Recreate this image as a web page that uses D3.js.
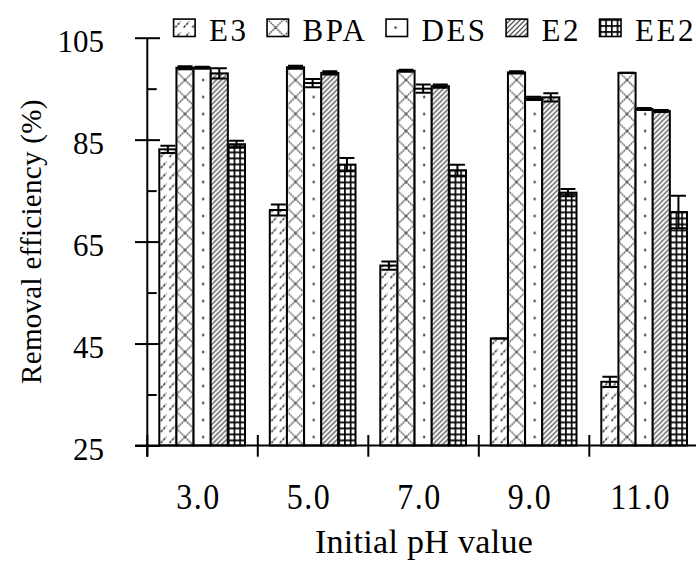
<!DOCTYPE html>
<html>
<head>
<meta charset="utf-8">
<script src="https://cdn.jsdelivr.net/npm/d3@7"></script>
<style>
  body { margin: 0; background: #fff; }
  svg text { font-family: "Liberation Serif", "Times New Roman", serif; fill: #000; }
</style>
</head>
<body>
<svg id="chart"></svg>
<script>
// values
const categories = ['3.0', '5.0', '7.0', '9.0', '11.0'];
const seriesNames = ['E3', 'BPA', 'DES', 'E2', 'EE2'];

const e3 = [83.1, 71.2, 60.3, 46.0, 37.5];
const bpa = [99.1, 99.2, 98.5, 98.2, 98.1];
const des = [99.1, 96.1, 95.0, 93.1, 91.0];
const e2 = [98.0, 98.1, 95.5, 93.3, 90.6];
const ee2 = [84.1, 80.1, 79.0, 74.6, 70.8];

const e3Err = [0.7, 1.1, 0.8, 0.0, 1.0];
const bpaErr = [0.3, 0.3, 0.2, 0.2, 0.0];
const desErr = [0.2, 0.8, 0.8, 0.3, 0.2];
const e2Err = [1.0, 0.3, 0.3, 0.8, 0.2];
const ee2Err = [0.7, 1.3, 1.1, 0.7, 3.2];

const yMajor = [25, 45, 65, 85, 105];
const yMinor = [35, 55, 75, 95];

const series = [
  { name: 'E3', values: e3, errors: e3Err },
  { name: 'BPA', values: bpa, errors: bpaErr },
  { name: 'DES', values: des, errors: desErr },
  { name: 'E2', values: e2, errors: e2Err },
  { name: 'EE2', values: ee2, errors: ee2Err }
];

const width = 696, height = 563;

const svg = d3.select('#chart')
  .attr('width', width)
  .attr('height', height);

const defs = svg.append('defs');

const x0 = d3.scaleBand().domain(categories).range([147.3, 699.8]);
const x1 = d3.scaleBand().domain(seriesNames).range([12, 97.7]);
const y = d3.scaleLinear().domain([25, 105]).range([445.5, 37.7]);

const bw = x1.bandwidth();

// fill patterns, anchored at the shape's own corner so each bar looks the same
function makePattern(id, name, ox, oy) {
  const p = defs.append('pattern')
    .attr('id', id)
    .attr('patternUnits', 'userSpaceOnUse')
    .attr('x', ox)
    .attr('y', oy);

  if (name === 'E3') {
    const w = bw / 2, h = 11;
    p.attr('width', w).attr('height', h);
    p.append('rect').attr('width', w).attr('height', h).attr('fill', '#fff');
    p.append('path')
      .attr('d', `M1.5,${h - 2.5} L${w - 1.5},${h - 8.5}`)
      .attr('stroke', '#222').attr('stroke-width', 1.4)
      .attr('stroke-dasharray', '2.6,1.2');
  } else if (name === 'BPA') {
    const w = bw, h = 17;
    p.attr('width', w).attr('height', h);
    p.append('rect').attr('width', w).attr('height', h).attr('fill', '#fff');
    p.append('path')
      .attr('d', `M0,0 L${w},${h} M${w},0 L0,${h}`)
      .attr('stroke', '#333').attr('stroke-width', 1.3)
      .attr('stroke-dasharray', '1.6,0.9');
  } else if (name === 'DES') {
    const w = bw, h = 17;
    p.attr('width', w).attr('height', h);
    p.append('rect').attr('width', w).attr('height', h).attr('fill', '#fff');
    p.append('circle').attr('cx', w / 2 + 1).attr('cy', h / 2).attr('r', 1.2).attr('fill', '#333');
  } else if (name === 'E2') {
    const s = 5;
    p.attr('width', s).attr('height', s);
    p.append('rect').attr('width', s).attr('height', s).attr('fill', '#fff');
    p.append('path')
      .attr('d', `M0,${s} L${s},0 M-1,1 L1,-1 M${s - 1},${s + 1} L${s + 1},${s - 1}`)
      .attr('stroke', '#333').attr('stroke-width', 1.2);
  } else {
    const w = bw / 3, h = 6;
    p.attr('width', w).attr('height', h);
    p.append('rect').attr('width', w).attr('height', h).attr('fill', '#fff');
    p.append('path')
      .attr('d', `M0.8,0 V${h} M0,0.8 H${w}`)
      .attr('stroke', '#000').attr('stroke-width', 1.7);
  }
}

// bars
const groups = svg.append('g').selectAll('g')
  .data(series)
  .join('g');

groups.each(function (s) {
  const g = d3.select(this);
  categories.forEach((c, i) => {
    const bx = x0(c) + x1(s.name);
    const id = `pat-${s.name}-${i}`;
    makePattern(id, s.name, bx, y(25));
    g.append('rect')
      .attr('x', bx)
      .attr('y', y(s.values[i]))
      .attr('width', bw)
      .attr('height', y(25) - y(s.values[i]))
      .attr('fill', `url(#${id})`)
      .attr('stroke', '#000')
      .attr('stroke-width', 2);
  });
});

// error bars
const capW = 15;
groups.each(function (s) {
  const g = d3.select(this);
  categories.forEach((c, i) => {
    const cx = x0(c) + x1(s.name) + bw / 2;
    const hi = y(s.values[i] + s.errors[i]);
    const lo = y(s.values[i] - s.errors[i]);
    g.append('path')
      .attr('d', `M${cx},${hi} V${lo} M${cx - capW / 2},${hi} H${cx + capW / 2} M${cx - capW / 2},${lo} H${cx + capW / 2}`)
      .attr('stroke', '#000')
      .attr('stroke-width', 2)
      .attr('fill', 'none');
  });
});

// y axis
const axisX = x0.range()[0];
const yAxis = svg.append('g').attr('transform', `translate(${axisX},0)`);
yAxis.call(d3.axisLeft(y).tickValues(yMajor).tickSize(12.3).tickSizeOuter(0).tickFormat(''));
yAxis.call(g => g.select('.domain').remove());
yAxis.append('g').call(d3.axisRight(y).tickValues(yMajor).tickSize(12.7).tickSizeOuter(0).tickFormat(''))
  .call(g => g.select('.domain').remove());
yAxis.append('g').call(d3.axisRight(y).tickValues(yMinor).tickSize(9.4).tickSizeOuter(0).tickFormat(''))
  .call(g => g.select('.domain').remove());
yAxis.selectAll('line').attr('stroke', '#000').attr('stroke-width', 2);
yAxis.append('line')
  .attr('x1', 0).attr('x2', 0)
  .attr('y1', y(105)).attr('y2', y(25) + 11.2)
  .attr('stroke', '#000').attr('stroke-width', 2);

const yLabels = svg.append('g').attr('transform', `translate(${axisX},0)`)
  .call(d3.axisLeft(y).tickValues(yMajor).tickSize(0).tickPadding(43.3).tickFormat(d3.format('d')));
yLabels.select('.domain').remove();
yLabels.selectAll('text')
  .attr('dy', 14)
  .style('font-size', '31px');

// x axis
const xAxis = svg.append('g');
xAxis.append('line')
  .attr('x1', axisX - 12.3).attr('x2', width + 10)
  .attr('y1', y(25)).attr('y2', y(25))
  .attr('stroke', '#000').attr('stroke-width', 2);
const bounds = categories.map(c => x0(c)).concat([x0.range()[1]]);
xAxis.selectAll('.xtick')
  .data(bounds)
  .join('line')
  .attr('class', 'xtick')
  .attr('x1', d => d).attr('x2', d => d)
  .attr('y1', y(25) - 10.5).attr('y2', y(25) + 11.2)
  .attr('stroke', '#000').attr('stroke-width', 2);

const xLabels = svg.append('g').attr('transform', `translate(0,${y(25)})`)
  .call(d3.axisBottom(x0).tickSize(0));
xLabels.select('.domain').remove();
xLabels.selectAll('text')
  .attr('transform', 'scale(1,1.12)')
  .attr('y', (509 - y(25)) / 1.12)
  .attr('dy', 0)
  .attr('dx', -4)
  .style('font-size', '32px')
  .style('letter-spacing', '1.5px');

// axis titles
svg.append('text')
  .attr('transform', `translate(41,${(y(25) + y(105)) / 2}) rotate(-90)`)
  .attr('text-anchor', 'middle')
  .style('font-size', '29px')
  .style('letter-spacing', '0.3px')
  .text('Removal efficiency (%)');

svg.append('text')
  .attr('x', 424)
  .attr('y', 553)
  .attr('text-anchor', 'middle')
  .style('font-size', '34px')
  .style('letter-spacing', '0.3px')
  .text('Initial pH value');

// legend
const sw = 21.5, sh = 17.4;
let lx = 173.6;
series.forEach(s => {
  const id = `leg-${s.name}`;
  makePattern(id, s.name, lx, 19.1);
  svg.append('rect')
    .attr('x', lx).attr('y', 19.1)
    .attr('width', sw).attr('height', sh)
    .attr('fill', `url(#${id})`)
    .attr('stroke', '#000').attr('stroke-width', 1.6);
  const t = svg.append('text')
    .attr('x', lx + 35.5)
    .attr('y', 41)
    .style('font-size', '31px')
    .style('letter-spacing', '2.5px')
    .text(s.name);
  lx = lx + 35.5 + t.node().getComputedTextLength() + 18.5;
});
</script>
</body>
</html>
